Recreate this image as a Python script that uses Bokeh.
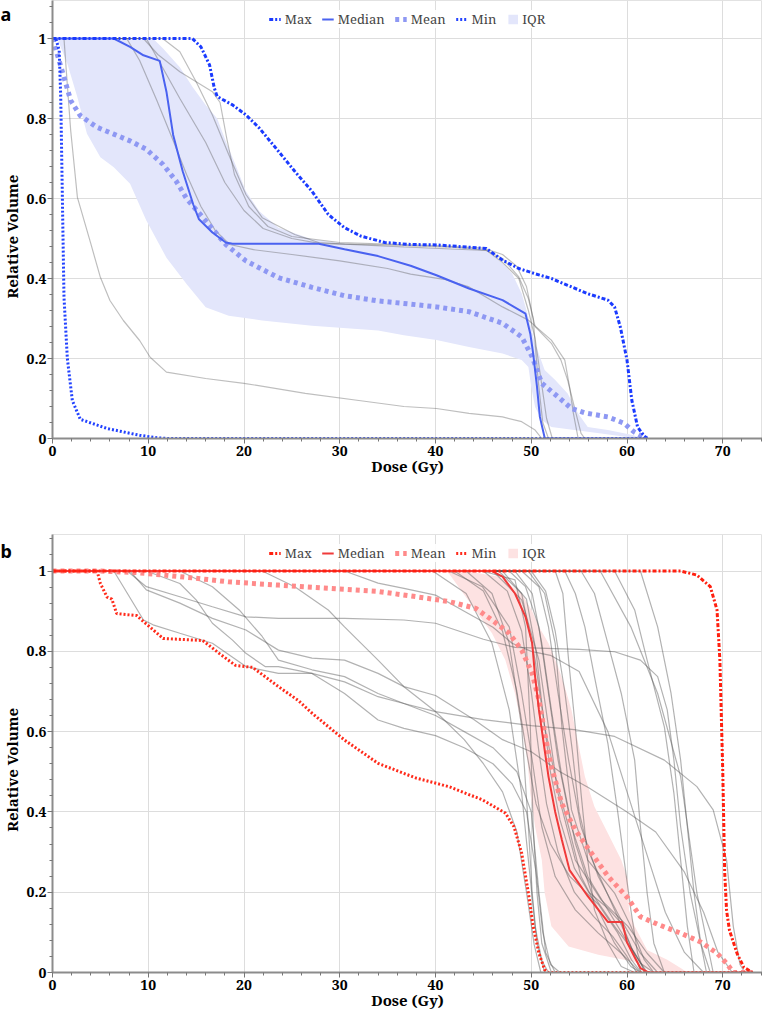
import math
from bokeh.plotting import figure
from bokeh.layouts import column, row
from bokeh.models import (FixedTicker, Legend, LegendItem, Range1d, CustomJSTickFormatter)
from bokeh.core.properties import value
from bokeh.embed import file_html
from bokeh.resources import INLINE

# ---------------- shared axis data ----------------
DOSE_TICKS = [0, 10, 20, 30, 40, 50, 60, 70]
DOSE_MINOR = list(range(0, 76, 2))
VOL_TICKS = [0, 0.2, 0.4, 0.6, 0.8, 1]
VOL_MINOR = [round(i * 0.04, 2) for i in range(0, 28)]
LEGEND_NAMES = ["Max", "Median", "Mean", "Min", "IQR"]
X_LABEL = "Dose (Gy)"
Y_LABEL = "Relative Volume"
PANEL_LETTERS = ["a", "b"]

# ---------------- panel a (dose, relative volume) ----------------
a_max = [(0, 1), (14.6, 1), (15.5, 0.979), (16.4, 0.934), (16.9, 0.876), (17.2, 0.855),
         (18.8, 0.834), (20.2, 0.809), (21.6, 0.776), (23.6, 0.718), (25.3, 0.668),
         (27.1, 0.618), (28.8, 0.56), (30.5, 0.527), (32.2, 0.506), (34.7, 0.49),
         (37.4, 0.485), (40.1, 0.484), (45.3, 0.475), (47.0, 0.446), (48.7, 0.425),
         (50.4, 0.412), (52.1, 0.40), (53.8, 0.383), (55.9, 0.362), (58.0, 0.346),
         (58.7, 0.329), (59.3, 0.279), (60.0, 0.196), (60.5, 0.096), (61.1, 0.029),
         (61.8, 0.006), (62.1, 0)]
a_median = [(0, 1), (6.4, 1), (8.1, 0.979), (9.5, 0.958), (11.2, 0.944), (11.9, 0.867),
            (12.6, 0.759), (13.6, 0.668), (14.7, 0.585), (15.3, 0.548), (16.7, 0.515),
            (18.1, 0.49), (18.8, 0.487), (27.8, 0.487), (30.5, 0.473), (34.0, 0.456),
            (37.4, 0.432), (40.1, 0.408), (43.5, 0.375), (47.0, 0.346), (49.4, 0.312),
            (49.9, 0.262), (50.2, 0.212), (50.6, 0.129), (50.9, 0.054), (51.4, 0.002),
            (51.6, 0), (62.1, 0)]
a_mean = [(0, 1), (0.5, 0.96), (1.2, 0.903), (1.9, 0.845), (2.9, 0.807), (4.65, 0.778),
          (6.4, 0.761), (8.1, 0.744), (9.8, 0.723), (11.55, 0.685), (12.9, 0.644),
          (14.0, 0.60), (16.0, 0.544), (18.1, 0.485), (20.2, 0.444), (23.6, 0.402),
          (27.1, 0.378), (30.5, 0.357), (34.0, 0.344), (37.4, 0.336), (40.1, 0.329),
          (43.5, 0.317), (47.0, 0.288), (49.0, 0.254), (50.1, 0.204), (51.1, 0.138),
          (52.8, 0.104), (54.2, 0.075), (55.6, 0.064), (58.0, 0.054), (59.7, 0.038),
          (60.7, 0.017), (61.8, 0.002), (62.1, 0)]
a_min = [(0, 1), (0.35, 1), (0.7, 0.97), (0.86, 0.853), (1.03, 0.603), (1.2, 0.353),
         (1.55, 0.2), (2.07, 0.095), (2.9, 0.048), (5.7, 0.025), (9.1, 0.008),
         (10.9, 0.002), (12, 0), (62.1, 0)]
a_iqr_hi = [(0.5, 1), (10.5, 1), (11.55, 0.975), (13.3, 0.928), (14.65, 0.878),
            (16.0, 0.834), (17.2, 0.80), (18.1, 0.743), (19.1, 0.685), (20.2, 0.618),
            (21.6, 0.568), (23.6, 0.527), (27.1, 0.498), (30.5, 0.487), (36.7, 0.479),
            (45.3, 0.471), (47.0, 0.4375), (48.0, 0.4125), (49.0, 0.3625), (49.7, 0.304),
            (50.4, 0.2375), (51.4, 0.171), (52.5, 0.146), (53.8, 0.1125), (54.9, 0.0625),
            (55.9, 0.029), (58.0, 0.021), (60.7, 0.008), (61.4, 0)]
a_iqr_lo = [(0.5, 1), (1.55, 0.937), (2.6, 0.853), (3.6, 0.762), (5.0, 0.703),
            (6.4, 0.678), (8.1, 0.637), (9.8, 0.545), (11.9, 0.452), (14.0, 0.386),
            (16.0, 0.328), (18.4, 0.307), (21.9, 0.295), (27.1, 0.282), (34.0, 0.27),
            (36.7, 0.258), (40.1, 0.246), (43.5, 0.229), (47.0, 0.2125), (49.0, 0.196),
            (49.7, 0.179), (50.0, 0.129), (50.4, 0.079), (51.1, 0.046), (52.1, 0.029),
            (54.5, 0.021), (57.3, 0.0125), (60.0, 0.004), (61.4, 0)]
a_pt1 = [(0, 1), (1.2, 1), (1.5, 0.9), (1.9, 0.77), (2.6, 0.603), (4.0, 0.487), (5.0, 0.403),
         (6.0, 0.345), (7.4, 0.295), (9.1, 0.245), (10.2, 0.203), (11.9, 0.166), (16, 0.15),
         (20, 0.138), (26.4, 0.113), (32, 0.095), (36.7, 0.08), (40.1, 0.075), (43.5, 0.063),
         (47, 0.054), (49, 0.042), (50.4, 0.021), (51.1, 0)]
a_pt2 = [(0, 1), (7.75, 1), (9.1, 0.945), (10.9, 0.845), (12.6, 0.745), (14, 0.66),
         (15.5, 0.58), (17, 0.52), (18.5, 0.485), (21, 0.472), (25, 0.46), (30, 0.444),
         (35, 0.425), (37.4, 0.411), (40.9, 0.398), (43.5, 0.379), (47, 0.329),
         (49.7, 0.296), (52.1, 0.246), (53.5, 0.196), (54, 0.129), (54.4, 0.063), (54.9, 0)]
a_pt3 = [(0, 1), (9.8, 1), (11.2, 0.94), (13.3, 0.85), (16, 0.74), (18, 0.64), (20, 0.57),
         (22, 0.525), (25, 0.5), (28, 0.487), (35, 0.484), (42, 0.478), (45.3, 0.471),
         (47, 0.44), (48.7, 0.4), (49.7, 0.32), (50.4, 0.25), (51, 0.15), (51.6, 0.05),
         (52.2, 0)]
a_pt4 = [(0, 1), (11.5, 1), (13.3, 0.967), (15, 0.892), (16.7, 0.809), (18.4, 0.71),
         (20.2, 0.61), (21.9, 0.552), (25.3, 0.51), (27.8, 0.49), (30.5, 0.486),
         (36.7, 0.479), (45.3, 0.47), (47, 0.45), (48.7, 0.404), (49.7, 0.35), (50.4, 0.28),
         (52.1, 0.238), (53.1, 0.196), (53.8, 0.146), (54.5, 0.079), (55.2, 0.013), (55.6, 0)]
a_pt5 = [(0, 1), (9.5, 1), (11, 0.96), (13.3, 0.917), (16.7, 0.867), (17.5, 0.84),
         (18.2, 0.75), (19, 0.66), (20.5, 0.58), (22.5, 0.53), (25, 0.505), (30, 0.49),
         (40, 0.482), (45, 0.476), (47, 0.46), (48.5, 0.43), (49.5, 0.38), (50.2, 0.3),
         (50.7, 0.15), (51.2, 0.04), (51.8, 0)]
A_PATIENTS = [a_pt1, a_pt2, a_pt3, a_pt4, a_pt5]

# ---------------- panel b (dose, relative volume) ----------------
b_max = [(0, 1), (65.6, 1), (67.3, 0.99), (68.7, 0.961), (69.4, 0.903), (69.7, 0.778),
         (70.0, 0.5), (70.2, 0.25), (70.4, 0.154), (70.7, 0.105), (71.5, 0.047),
         (72.2, 0.013), (73.1, 0)]
b_median = [(0, 1), (45.9, 1), (47.0, 0.986), (48.3, 0.944), (49.4, 0.886), (50.1, 0.82),
            (50.4, 0.737), (50.8, 0.654), (51.3, 0.571), (51.8, 0.488), (52.5, 0.4),
            (53.2, 0.33), (54.0, 0.255), (55.9, 0.19), (58.0, 0.126), (59.5, 0.126),
            (60.0, 0.075), (60.8, 0.038), (61.4, 0.011), (62.1, 0.002), (62.5, 0), (73.1, 0)]
b_mean = [(0, 1), (5, 1), (8.8, 0.996), (11.6, 0.99), (15.0, 0.982), (18.4, 0.973),
          (23.6, 0.965), (28.8, 0.957), (34.0, 0.949), (38.0, 0.936), (41.4, 0.924),
          (44.2, 0.907), (45.9, 0.878), (47.7, 0.845), (49.0, 0.803), (50.1, 0.745),
          (50.8, 0.679), (51.4, 0.596), (52.1, 0.513), (53.2, 0.42), (54.6, 0.355),
          (55.9, 0.31), (58.0, 0.24), (60.1, 0.185), (61.4, 0.139), (63.2, 0.12),
          (65.6, 0.098), (67.7, 0.076), (69.4, 0.048), (70.4, 0.023), (71.1, 0), (73.1, 0)]
b_min = [(0, 1), (4.66, 1), (5.0, 0.969), (5.7, 0.935), (6.2, 0.93), (6.7, 0.894),
         (8.8, 0.889), (9.5, 0.874), (10.2, 0.86), (11.55, 0.832), (15.7, 0.827),
         (17.4, 0.795), (19.1, 0.765), (20.9, 0.76), (23.6, 0.712), (25.7, 0.677),
         (27.1, 0.646), (30.5, 0.579), (34.0, 0.521), (36.7, 0.496), (38.0, 0.484),
         (41.4, 0.463), (44.9, 0.43), (47.3, 0.397), (48.2, 0.363), (49.0, 0.297),
         (49.7, 0.198), (50.2, 0.115), (50.8, 0.048), (51.4, 0.007), (51.8, 0), (73.1, 0)]
b_iqr_hi = [(40.8, 1), (43.2, 1), (46.6, 0.986), (49.0, 0.944), (50.1, 0.9), (50.8, 0.861),
            (51.8, 0.82), (52.8, 0.762), (53.5, 0.712), (54.2, 0.654), (54.9, 0.571),
            (55.6, 0.488), (56.6, 0.413), (58.0, 0.347), (59.4, 0.28), (60.1, 0.231),
            (60.2, 0.156), (60.8, 0.115), (62.1, 0.056), (64.2, 0.032), (65.6, 0.011),
            (66.3, 0)]
b_iqr_lo = [(40.8, 1), (41.4, 0.994), (43.9, 0.911), (45.9, 0.845), (47.3, 0.778),
            (48.3, 0.695), (49.0, 0.612), (49.6, 0.529), (49.9, 0.446), (50.4, 0.363),
            (51.1, 0.28), (51.4, 0.198), (52.1, 0.115), (53.9, 0.065), (57.0, 0.044),
            (60.8, 0.027), (62.1, 0.007), (66.3, 0)]
b_pt01 = [(0, 1), (6.4, 1), (7.4, 0.961), (9.5, 0.878), (10.5, 0.866), (13.3, 0.845),
          (16.7, 0.82), (20.2, 0.762), (23.6, 0.745), (27.1, 0.745), (30.5, 0.724),
          (34.0, 0.687), (36.7, 0.67), (40, 0.64), (43, 0.6), (46, 0.56), (48.5, 0.5),
          (50, 0.4), (50.8, 0.2), (51.5, 0.05), (52.5, 0)]
b_pt02 = [(0, 1), (7.8, 1), (9.8, 0.961), (13.3, 0.936), (16.7, 0.911), (20.2, 0.886),
          (23.6, 0.882), (30.5, 0.882), (36.7, 0.878), (40, 0.87), (45, 0.83), (48.3, 0.81),
          (55, 0.805), (58.7, 0.799), (61.4, 0.778), (63.2, 0.737), (64.2, 0.654),
          (64.9, 0.529), (65.6, 0.363), (66.6, 0.198), (67.7, 0.073), (68.7, 0)]
b_pt03 = [(0, 1), (8.1, 1), (9.8, 0.953), (13.3, 0.92), (16.7, 0.882), (20.2, 0.853),
          (23.6, 0.803), (27.1, 0.783), (30.5, 0.778), (34.0, 0.745), (36.7, 0.712),
          (40, 0.69), (44, 0.63), (47, 0.58), (50, 0.55), (53, 0.5), (56, 0.46), (60, 0.4),
          (63, 0.35), (66, 0.25), (68, 0.15), (69.5, 0.05), (71, 0)]
b_pt04 = [(0, 1), (9.8, 1), (13.3, 0.969), (15.0, 0.928), (16.7, 0.87), (18.8, 0.828),
          (20.2, 0.795), (22.2, 0.762), (23.6, 0.762), (27.1, 0.745), (30.5, 0.695),
          (34.0, 0.629), (36.7, 0.608), (40, 0.59), (43, 0.56), (46, 0.52), (48, 0.47),
          (49.5, 0.4), (50.5, 0.25), (51.2, 0.1), (52, 0.02), (53, 0)]
b_pt05 = [(0, 1), (13.3, 1), (16.7, 0.961), (19.5, 0.903), (21.9, 0.837), (23.6, 0.778),
          (27.1, 0.754), (30.5, 0.737), (34.0, 0.695), (36.7, 0.67), (40, 0.65), (45, 0.63),
          (50, 0.615), (54.5, 0.605), (58.7, 0.588), (63.9, 0.529), (67.3, 0.463),
          (69.0, 0.405), (70.4, 0.28), (71.1, 0.115), (71.8, 0.02), (72.3, 0)]
b_pt06 = [(0, 1), (21.9, 1), (25.3, 0.961), (28.8, 0.903), (30.5, 0.861), (34.0, 0.778),
          (36.7, 0.712), (40, 0.65), (43, 0.58), (45, 0.52), (47, 0.45), (48.5, 0.35),
          (49.5, 0.2), (50.3, 0.07), (51, 0)]
b_pt07 = [(0, 1), (30.5, 1), (34.0, 0.97), (36.7, 0.957), (40, 0.94), (43, 0.9), (46, 0.86),
          (48, 0.82), (50, 0.8), (52, 0.79), (55, 0.75), (58, 0.6), (60, 0.45), (62, 0.3),
          (64, 0.15), (66, 0.05), (68, 0)]
b_pt08 = [(0, 1), (39.7, 1), (43.2, 0.944), (45.9, 0.82), (47.7, 0.654), (49.0, 0.446),
          (49.7, 0.28), (50.4, 0.115), (51.1, 0.03), (51.8, 0)]
b_pt09 = [(0, 1), (43.2, 1), (45.9, 0.944), (47.7, 0.82), (49.0, 0.612), (49.7, 0.363),
          (50.1, 0.198), (50.6, 0.073), (51.4, 0)]
b_pt10 = [(0, 1), (44.9, 1), (48.3, 0.978), (49.4, 0.861), (49.9, 0.612), (50.2, 0.363),
          (50.6, 0.198), (51.1, 0.073), (52.1, 0)]
b_pt11 = [(0, 1), (46.6, 1), (49.0, 0.944), (50.4, 0.778), (51.4, 0.612), (52.5, 0.488),
          (53.9, 0.363), (55.2, 0.239), (57.0, 0.156), (58.7, 0.073), (60.4, 0.015), (61.4, 0)]
b_pt12 = [(0, 1), (47.7, 1), (49.4, 0.961), (50.8, 0.861), (51.8, 0.695), (52.8, 0.529),
          (54.2, 0.363), (55.9, 0.239), (58.0, 0.156), (60.1, 0.073), (61.4, 0.023), (62.8, 0)]
b_pt13 = [(0, 1), (48.3, 1), (50.1, 0.944), (51.1, 0.82), (52.1, 0.654), (53.2, 0.488),
          (54.6, 0.322), (56.3, 0.198), (58.7, 0.115), (60.8, 0.048), (62.1, 0)]
b_pt14 = [(0, 1), (49.0, 1), (50.8, 0.961), (51.8, 0.861), (52.8, 0.695), (53.9, 0.529),
          (55.2, 0.363), (57.0, 0.239), (59.4, 0.131), (61.4, 0.048), (63.2, 0)]
b_pt15 = [(0, 1), (49.7, 1), (51.4, 0.944), (52.5, 0.82), (53.2, 0.612), (54.2, 0.405),
          (55.9, 0.28), (58.7, 0.198), (60.4, 0.115), (61.8, 0.032), (62.8, 0)]
b_pt16 = [(0, 1), (52.5, 1), (53.3, 0.944), (53.9, 0.778), (54.6, 0.612), (55.2, 0.446),
          (55.9, 0.28), (56.6, 0.156), (58.0, 0.073), (59.4, 0.015), (60.8, 0)]
b_pt17 = [(0, 1), (53.5, 1), (54.6, 0.944), (55.6, 0.861), (56.6, 0.737), (58.0, 0.571),
          (59.0, 0.405), (59.7, 0.28), (60.4, 0.156), (61.1, 0.048), (61.8, 0)]
b_pt18 = [(0, 1), (55.2, 1), (56.6, 0.944), (58.0, 0.82), (59.4, 0.695), (60.8, 0.529),
          (61.4, 0.363), (62.1, 0.198), (62.8, 0.073), (63.9, 0)]
b_pt19 = [(0, 1), (58.7, 1), (60.8, 0.903), (62.1, 0.778), (63.9, 0.612), (64.9, 0.446),
          (65.6, 0.28), (66.3, 0.115), (67.0, 0)]
b_pt20 = [(0, 1), (61.4, 1), (63.2, 0.861), (64.6, 0.695), (65.6, 0.529), (66.3, 0.363),
          (67.0, 0.198), (67.7, 0.073), (68.3, 0)]
b_pt21 = [(0, 1), (57.2, 1), (60.4, 0.861), (63.2, 0.695), (65.6, 0.488), (67.3, 0.198),
          (69.0, 0)]
b_pt22 = [(0, 1), (41.4, 1), (44.9, 0.961), (47.7, 0.861), (49.0, 0.695), (50.1, 0.529),
          (51.1, 0.363), (52.5, 0.239), (54.6, 0.156), (57.0, 0.098), (59.4, 0.048), (61.4, 0)]
b_pt23 = [(0, 1), (46.0, 1), (49.0, 0.928), (50.8, 0.778), (51.8, 0.612), (52.8, 0.446),
          (54.6, 0.28), (57.3, 0.181), (60.1, 0.115), (62.1, 0.048), (63.9, 0)]
b_pt24 = [(0, 1), (45.0, 1), (47.5, 0.95), (49.0, 0.85), (50.0, 0.7), (50.8, 0.55),
          (51.6, 0.42), (52.8, 0.3), (54.5, 0.2), (56.5, 0.14), (58.5, 0.09), (60.0, 0.04),
          (61.0, 0)]
b_pt25 = [(0, 1), (47.0, 1), (49.5, 0.93), (50.5, 0.8), (51.2, 0.65), (52.0, 0.5),
          (53.0, 0.38), (54.5, 0.26), (56.0, 0.2), (58.0, 0.16), (59.5, 0.12), (60.5, 0.06),
          (61.5, 0)]
b_pt26 = [(0, 1), (42.0, 1), (45.0, 0.95), (47.0, 0.85), (48.5, 0.7), (49.5, 0.55),
          (50.5, 0.42), (52.0, 0.32), (54.0, 0.24), (57.0, 0.17), (59.0, 0.1), (60.5, 0.03),
          (61.5, 0)]
b_pt27 = [(0, 1), (50.0, 1), (51.5, 0.95), (52.5, 0.85), (53.5, 0.7), (54.3, 0.55),
          (55.0, 0.4), (56.0, 0.3), (57.5, 0.22), (59.0, 0.14), (60.5, 0.06), (62.0, 0)]
B_PATIENTS = [b_pt01, b_pt02, b_pt03, b_pt04, b_pt05, b_pt06, b_pt07, b_pt08, b_pt09,
              b_pt10, b_pt11, b_pt12, b_pt13, b_pt14, b_pt15, b_pt16, b_pt17, b_pt18,
              b_pt19, b_pt20, b_pt21, b_pt22, b_pt23, b_pt24, b_pt25, b_pt26, b_pt27]

BLUE = dict(max="#1b3bff", median="#4a62f0", mean="#8e98f3", min="#2242ff", iqr="#e3e6fb")
RED = dict(max="#ff2010", median="#f03a3a", mean="#ff8a8a", min="#ff2a1a", iqr="#fde2e2")

SERIF = "Noto Serif"
SANS = "Noto Sans"

STRIP_W = 23
TOTAL_W = 762


def xs(c):
    return [pt[0] for pt in c]


def ys(c):
    return [pt[1] for pt in c]


def make_strip(letter, height, top_b, bottom_b, y_end, letter_y):
    s = figure(width=STRIP_W, height=height, x_range=Range1d(0, 1),
               y_range=Range1d(0, y_end), output_backend="svg", toolbar_location=None,
               min_border_left=0, min_border_right=0, min_border_top=top_b,
               min_border_bottom=bottom_b, x_axis_type=None, y_axis_type=None)
    s.title.visible = False
    s.outline_line_color = None
    s.grid.visible = False
    s.text(x=[0.5], y=[0.505], text=[Y_LABEL], angle=math.pi / 2, text_align="center",
           text_baseline="middle", text_font=value(SERIF), text_font_style="bold",
           text_font_size="15px", text_color="black")
    s.text(x=[0.0], y=[letter_y], text=[letter], text_align="left",
           text_baseline="alphabetic", text_font=value(SANS),
           text_font_style="bold", text_font_size="18px", text_color="black")
    return s


def make_panel(height, top_b, bottom_b, y_end, patients, mx, med, mean, mn,
               hi, lo, col, grey_alpha):
    p = figure(width=TOTAL_W - STRIP_W, height=height, x_range=Range1d(0, 74.15),
               y_range=Range1d(0, y_end), output_backend="svg", toolbar_location=None,
               min_border_left=24, min_border_right=0, min_border_top=top_b,
               min_border_bottom=bottom_b)
    p.title.visible = False
    p.outline_line_color = "#e2e2e2"

    p.xaxis.ticker = FixedTicker(ticks=DOSE_TICKS, minor_ticks=DOSE_MINOR)
    p.yaxis.ticker = FixedTicker(ticks=VOL_TICKS, minor_ticks=VOL_MINOR)
    p.yaxis.formatter = CustomJSTickFormatter(code="return String(tick);")
    for ax in (p.xaxis[0], p.yaxis[0]):
        ax.axis_line_color = "#8c8c8c"
        ax.axis_line_width = 2
        ax.major_tick_line_color = "#777777"
        ax.minor_tick_line_color = "#777777"
        ax.major_tick_in = 0
        ax.major_tick_out = 5
        ax.minor_tick_in = 0
        ax.minor_tick_out = 3
        ax.major_label_text_font = SERIF
        ax.major_label_text_font_style = "bold"
        ax.major_label_text_font_size = "14px"
        ax.major_label_text_color = "black"
    p.yaxis.major_label_standoff = 1
    p.xaxis.major_label_standoff = 2
    p.xaxis.axis_label = X_LABEL
    p.xaxis.axis_label_text_font = SERIF
    p.xaxis.axis_label_text_font_style = "bold"
    p.xaxis.axis_label_text_font_size = "15px"
    p.xaxis.axis_label_text_color = "black"
    p.xaxis.axis_label_standoff = -3
    p.grid.grid_line_color = "#dddddd"
    p.grid.grid_line_width = 1

    r_iqr = p.patch(xs(hi) + xs(lo)[::-1], ys(hi) + ys(lo)[::-1],
                    fill_color=col["iqr"], fill_alpha=1, line_alpha=0)
    for c in patients:
        p.line(xs(c), ys(c), line_color="#555555", line_alpha=grey_alpha, line_width=1.2)
    r_mean = p.line(xs(mean), ys(mean), line_color=col["mean"], line_width=5,
                    line_dash="4 4")
    r_med = p.line(xs(med), ys(med), line_color=col["median"], line_width=2)
    r_min = p.line(xs(mn), ys(mn), line_color=col["min"], line_width=3, line_dash="2 2")
    r_max = p.line(xs(mx), ys(mx), line_color=col["max"], line_width=3,
                   line_dash="4 2 2 2")

    items = [LegendItem(label=LEGEND_NAMES[0], renderers=[r_max]),
             LegendItem(label=LEGEND_NAMES[1], renderers=[r_med]),
             LegendItem(label=LEGEND_NAMES[2], renderers=[r_mean]),
             LegendItem(label=LEGEND_NAMES[3], renderers=[r_min]),
             LegendItem(label=LEGEND_NAMES[4], renderers=[r_iqr])]
    leg = Legend(items=items, location="top_center", orientation="horizontal",
                 glyph_width=12, glyph_height=12, label_standoff=4, spacing=10,
                 padding=0, margin=10, label_height=14,
                 label_text_font=SERIF, label_text_font_size="13px",
                 label_text_color="#444444", border_line_alpha=0,
                 background_fill_color="white", background_fill_alpha=0.9)
    p.add_layout(leg)
    return p


pa = make_panel(483, 0, 45, 1.095, A_PATIENTS, a_max, a_median, a_mean, a_min,
                a_iqr_hi, a_iqr_lo, BLUE, 0.38)
sa = make_strip(PANEL_LETTERS[0], 483, 0, 45, 1.095, 1.062)
pb = make_panel(535, 51, 46, 1.091, B_PATIENTS, b_max, b_median, b_mean, b_min,
                b_iqr_hi, b_iqr_lo, RED, 0.45)
sb = make_strip(PANEL_LETTERS[1], 535, 51, 46, 1.091, 1.051)

layout = column(row(sa, pa), row(sb, pb))
open("out.html", "w").write(file_html(layout, INLINE))
